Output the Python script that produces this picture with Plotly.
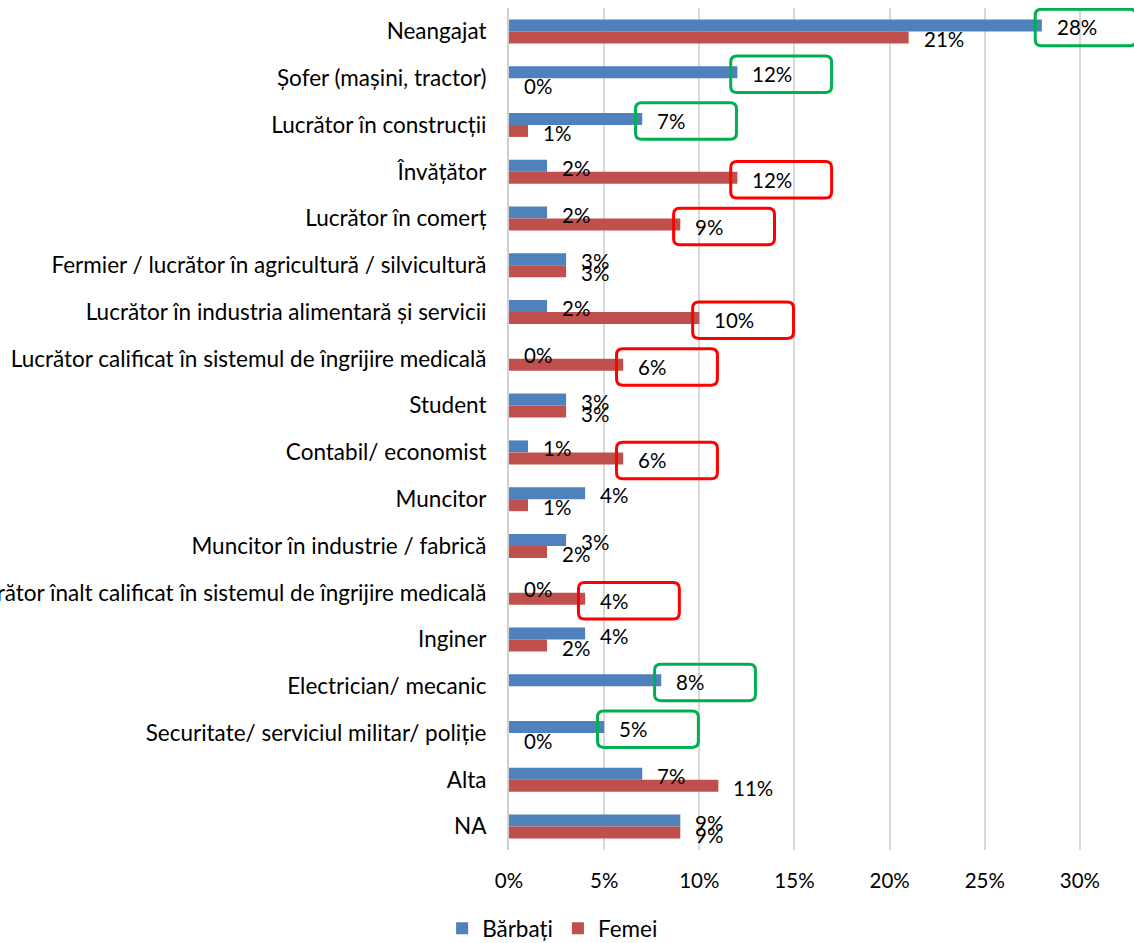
import plotly.graph_objects as go

categories = [
    "Neangajat",
    "Șofer (mașini, tractor)",
    "Lucrător în construcții",
    "Învățător",
    "Lucrător în comerț",
    "Fermier / lucrător în agricultură / silvicultură",
    "Lucrător în industria alimentară și servicii",
    "Lucrător calificat în sistemul de îngrijire medicală",
    "Student",
    "Contabil/ economist",
    "Muncitor",
    "Muncitor în industrie / fabrică",
    "Lucrător înalt calificat în sistemul de îngrijire medicală",
    "Inginer",
    "Electrician/ mecanic",
    "Securitate/ serviciul militar/ poliție",
    "Alta",
    "NA",
]
barbati = [28, 12, 7, 2, 2, 3, 2, 0, 3, 1, 4, 3, 0, 4, 8, 5, 7, 9]
femei = [21, 0, 1, 12, 9, 3, 10, 6, 3, 6, 1, 2, 4, 2, None, 0, 11, 9]
series_names = ["Bărbați", "Femei"]
colors = ["#4F81BD", "#C0504D"]

# highlighted labels: (category, series index)
highlight_green = [("Neangajat", 0), ("Șofer (mașini, tractor)", 0), ("Lucrător în construcții", 0),
                   ("Electrician/ mecanic", 0), ("Securitate/ serviciul militar/ poliție", 0)]
highlight_red = [("Învățător", 1), ("Lucrător în comerț", 1),
                 ("Lucrător în industria alimentară și servicii", 1),
                 ("Lucrător calificat în sistemul de îngrijire medicală", 1),
                 ("Contabil/ economist", 1),
                 ("Lucrător înalt calificat în sistemul de îngrijire medicală", 1)]
x_ticks = [0, 5, 10, 15, 20, 25, 30]

FONT = "Lato, 'Open Sans', sans-serif"
FS_TXT = 22.5
FS_NUM = 20.5
idx = list(range(len(categories)))
BARGAP = 0.487
half = (1 - BARGAP) / 4  # offset of each bar center from category center
X_MAX = 32.84  # axis extends past the last gridline so the top box is not clipped

fig = go.Figure()
all_series = [barbati, femei]
for s, vals in enumerate(all_series):
    fig.add_trace(go.Bar(
        y=idx, x=vals, orientation="h", name=series_names[s],
        marker=dict(color=colors[s], line=dict(width=0)),
        hoverinfo="skip",
    ))

annotations = []
for s, vals in enumerate(all_series):
    off = -half if s == 0 else half
    for i, v in enumerate(vals):
        if v is None:
            continue
        annotations.append(dict(
            x=v, y=i + off, xref="x", yref="y", text=f"{v}%",
            showarrow=False, xanchor="left", yanchor="middle",
            xshift=13, yshift=-2, font=dict(family=FONT, size=FS_NUM, color="#000000"),
        ))

shapes = []
rx = 0.32   # corner radius in x data units
ry = 0.13   # corner radius in y data units
for items, col in [(highlight_green, "#00B050"), (highlight_red, "#FF0000")]:
    for cat, s in items:
        i = categories.index(cat)
        v = all_series[s][i]
        yc = i + (-half if s == 0 else half) + 0.045
        x0, x1 = v - 0.35, v + 4.95
        y0, y1 = yc - 0.39, yc + 0.39
        path = (f"M {x0+rx},{y0} L {x1-rx},{y0} Q {x1},{y0} {x1},{y0+ry} "
                f"L {x1},{y1-ry} Q {x1},{y1} {x1-rx},{y1} "
                f"L {x0+rx},{y1} Q {x0},{y1} {x0},{y1-ry} "
                f"L {x0},{y0+ry} Q {x0},{y0} {x0+rx},{y0} Z")
        shapes.append(dict(type="path", path=path, xref="x", yref="y",
                           line=dict(color=col, width=3), fillcolor="rgba(0,0,0,0)",
                           layer="above"))

fig.update_layout(
    width=1134, height=943,
    margin=dict(l=509, r=0, t=8, b=93, autoexpand=False),
    plot_bgcolor="white", paper_bgcolor="white",
    barmode="group", bargap=BARGAP, bargroupgap=0,
    font=dict(family=FONT, size=FS_TXT, color="#000000"),
    annotations=annotations, shapes=shapes,
    showlegend=True,
    legend=dict(orientation="h", xref="paper", x=-0.107, xanchor="left",
                yref="paper", y=-0.0935, yanchor="middle",
                font=dict(family=FONT, size=FS_TXT, color="#000000"),
                itemwidth=30, tracegroupgap=0),
)
fig.update_xaxes(
    range=[0, X_MAX], tickvals=x_ticks, ticktext=[f"{t}%" for t in x_ticks],
    showgrid=True, gridcolor="#D9D9D9", gridwidth=2, zeroline=False,
    showline=False, ticks="", ticklabelstandoff=16, automargin=False,
    tickfont=dict(family=FONT, size=FS_NUM, color="#000000"), fixedrange=True,
)
fig.update_yaxes(
    range=[len(categories) - 0.5, -0.5], tickvals=idx, ticktext=categories,
    showgrid=False, zeroline=False, showline=True, linecolor="#D0D0D0", linewidth=2,
    ticks="", ticklabelstandoff=16, automargin=False,
    tickfont=dict(family=FONT, size=FS_TXT, color="#000000"), fixedrange=True,
)

fig.write_html("out.html", config={"displayModeBar": False},
               post_script="document.body.style.margin='0px';")
